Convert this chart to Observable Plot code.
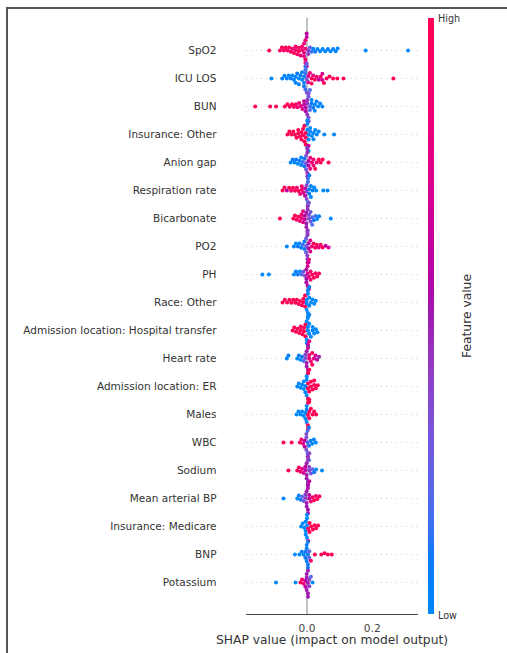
<!DOCTYPE html>
<html>
<head>
<meta charset="utf-8">
<script src="https://cdn.jsdelivr.net/npm/d3@7"></script>
<script src="https://cdn.jsdelivr.net/npm/@observablehq/plot@0.6"></script>
<style>
  html, body { margin: 0; padding: 0; background: #fff; }
  #wrap { position: relative; width: 507px; height: 653px; overflow: hidden; background: #fff; font-family: "DejaVu Sans", sans-serif; color: #333; }
  #wrap > svg { position: absolute; left: 0; top: 0; }
  .frame { position: absolute; left: 6px; top: 7px; width: 640px; height: 720px; border: 2px solid #555; box-sizing: border-box; pointer-events: none; }
  .cbar { position: absolute; left: 428px; top: 18px; width: 6px; height: 596px; }
  .cblab { position: absolute; left: 438px; font-size: 9.6px; line-height: 1; color: #333; }
  .cbtitle { position: absolute; left: 467px; top: 316px; font-size: 12.3px; color: #333; transform: translate(-50%, -50%) rotate(-90deg); white-space: nowrap; }
</style>
</head>
<body>
<div id="wrap"></div>
<script>
// ---- Data ----
const features = [
  "SpO2", "ICU LOS", "BUN", "Insurance: Other", "Anion gap", "Respiration rate",
  "Bicarbonate", "PO2", "PH", "Race: Other", "Admission location: Hospital transfer",
  "Heart rate", "Admission location: ER", "Males", "WBC", "Sodium",
  "Mean arterial BP", "Insurance: Medicare", "BNP", "Potassium"
];
const xTicks = [0, 0.2];
const xLabel = "SHAP value (impact on model output)";
const colorLabels = { high: "High", low: "Low", title: "Feature value" };

// each entry: [SHAP value, feature value (0 = low, 1 = high), number of points]
const spo2 = [[-0.116,.95,1],[-0.083,.9,1],[-0.077,1,1],[-0.071,.95,1],[-0.066,1,1],[-0.06,.9,1],[-0.055,1,1],[-0.05,.95,1],[-0.045,.85,1],[-0.04,1,1],[-0.035,.9,2],[-0.03,.95,1],[-0.025,1,2],[-0.02,.85,1],[-0.015,.9,2],[-0.009,.8,3],[-0.005,.85,4],[-0.001,.6,3],[0.004,.4,2],[0.009,.25,1],[0.014,.15,1],[0.019,.05,1],[0.025,.1,1],[0.032,0,1],[0.04,.05,1],[0.048,0,1],[0.056,0,1],[0.064,.05,1],[0.072,0,1],[0.08,0,1],[0.088,0,1],[0.094,0,1],[0.18,0,1],[0.31,0,1]];
const icuLos = [[-0.109,0,1],[-0.076,.05,1],[-0.069,0,1],[-0.062,.05,1],[-0.056,0,1],[-0.05,.1,1],[-0.045,0,1],[-0.04,.05,1],[-0.035,0,2],[-0.03,.1,1],[-0.025,0,2],[-0.02,.05,1],[-0.015,0,2],[-0.009,.1,3],[-0.005,.15,4],[-0.001,.3,3],[0.004,.7,2],[0.009,.85,1],[0.014,.95,2],[0.019,.8,1],[0.024,1,1],[0.03,.9,1],[0.036,.6,1],[0.042,.95,1],[0.047,.7,2],[0.052,1,1],[0.06,.95,1],[0.069,1,1],[0.08,.95,1],[0.093,1,1],[0.112,1,1],[0.265,1,1]];
const bun = [[-0.159,1,1],[-0.113,.95,1],[-0.095,1,1],[-0.068,.95,1],[-0.06,1,1],[-0.053,.9,1],[-0.046,1,1],[-0.04,.95,1],[-0.034,.9,1],[-0.029,.85,1],[-0.024,.9,1],[-0.019,.8,1],[-0.014,.75,1],[-0.009,.65,2],[-0.004,.55,2],[0.001,.45,3],[0.005,.3,4],[0.009,.2,3],[0.014,.05,2],[0.019,.1,1],[0.024,0,2],[0.029,.05,1],[0.034,0,1],[0.04,.05,1],[0.047,0,1]];
const insuranceOther = [[-0.06,1,1],[-0.054,1,1],[-0.048,1,1],[-0.042,1,1],[-0.037,1,1],[-0.032,1,1],[-0.027,1,2],[-0.022,1,1],[-0.017,1,2],[-0.012,1,2],[-0.008,1,2],[-0.004,1,3],[0.001,0,4],[0.005,0,3],[0.01,0,2],[0.015,0,1],[0.02,0,2],[0.025,0,1],[0.03,0,1],[0.036,0,1],[0.053,0,1],[0.083,0,1]];
const anionGap = [[-0.05,0,1],[-0.044,.05,1],[-0.038,0,1],[-0.033,.1,1],[-0.028,0,1],[-0.023,.05,1],[-0.018,0,2],[-0.013,.15,1],[-0.008,.1,2],[-0.003,.3,3],[0.001,.45,4],[0.005,.6,3],[0.01,.8,2],[0.015,.9,1],[0.02,.85,2],[0.025,1,1],[0.03,.9,1],[0.036,1,1],[0.042,.95,1],[0.048,1,1],[0.066,.95,1]];
const respirationRate = [[-0.075,1,1],[-0.069,.95,1],[-0.062,.6,1],[-0.055,1,1],[-0.049,.9,1],[-0.043,1,1],[-0.037,.95,1],[-0.031,.9,1],[-0.026,1,1],[-0.021,.85,1],[-0.016,.9,2],[-0.011,.75,1],[-0.006,.6,2],[-0.001,.35,3],[0.003,.15,4],[0.007,.05,3],[0.012,0,2],[0.017,.05,1],[0.022,0,1],[0.028,0,1],[0.05,0,1],[0.063,0,1]];
const bicarbonate = [[-0.083,1,1],[-0.042,1,1],[-0.037,.95,1],[-0.032,.9,1],[-0.027,1,1],[-0.022,.85,1],[-0.017,.9,2],[-0.012,.75,2],[-0.007,.6,2],[-0.002,.5,3],[0.002,.45,4],[0.006,.35,3],[0.011,.3,2],[0.016,.2,2],[0.021,.1,1],[0.026,.15,1],[0.031,0,1],[0.037,.05,1],[0.073,0,1]];
const po2 = [[-0.062,0,1],[-0.04,.05,1],[-0.034,0,1],[-0.028,.1,1],[-0.023,0,1],[-0.018,.05,1],[-0.013,.15,1],[-0.008,.1,2],[-0.003,.25,3],[0.001,.4,4],[0.005,.55,3],[0.01,.75,2],[0.015,.85,1],[0.02,.95,1],[0.025,.9,1],[0.03,1,1],[0.036,.8,1],[0.042,.95,1],[0.048,.95,1],[0.057,.6,1],[0.066,.7,1]];
const ph = [[-0.137,0,1],[-0.117,0,1],[-0.04,0,1],[-0.034,.05,1],[-0.028,.1,1],[-0.022,0,1],[-0.016,.2,1],[-0.011,.3,1],[-0.006,.4,1],[-0.002,.55,3],[0.002,.7,4],[0.006,.8,3],[0.011,.9,2],[0.016,.95,1],[0.021,1,1],[0.026,.95,1],[0.031,1,1],[0.037,.95,1]];
const raceOther = [[-0.075,1,1],[-0.068,1,1],[-0.061,1,1],[-0.054,1,1],[-0.048,1,1],[-0.042,1,1],[-0.036,1,1],[-0.031,1,1],[-0.026,1,1],[-0.021,1,1],[-0.016,1,1],[-0.011,1,2],[-0.006,1,2],[-0.001,0,3],[0.003,0,4],[0.007,0,3],[0.012,0,1],[0.017,0,1],[0.022,0,1],[0.027,0,1]];
const hospitalTransfer = [[-0.044,1,1],[-0.039,1,1],[-0.034,1,1],[-0.029,1,1],[-0.024,1,1],[-0.019,1,2],[-0.014,1,1],[-0.009,1,2],[-0.005,1,2],[-0.001,0,3],[0.003,0,4],[0.007,0,3],[0.012,0,1],[0.017,0,2],[0.022,0,1],[0.027,0,1],[0.032,0,1]];
const heartRate = [[-0.062,0,1],[-0.057,.05,1],[-0.03,0,1],[-0.025,.05,1],[-0.02,0,1],[-0.015,.1,1],[-0.01,.2,1],[-0.005,.35,2],[-0.001,.5,3],[0.003,.65,4],[0.007,.8,3],[0.012,.9,1],[0.016,.95,2],[0.021,.8,1],[0.026,.65,1],[0.031,.55,1],[0.037,.5,1]];
const admissionER = [[-0.03,0,1],[-0.025,0,1],[-0.02,0,1],[-0.015,0,1],[-0.01,0,2],[-0.005,0,2],[-0.001,0,3],[0.003,1,4],[0.007,1,3],[0.012,1,2],[0.017,1,1],[0.022,1,2],[0.027,1,1],[0.033,1,1]];
const males = [[-0.032,0,1],[-0.026,0,1],[-0.02,0,1],[-0.015,0,1],[-0.01,0,1],[-0.005,0,2],[-0.001,0,3],[0.003,1,4],[0.007,1,3],[0.012,1,1],[0.017,1,1],[0.022,1,1],[0.028,1,1]];
const wbc = [[-0.072,1,1],[-0.047,1,1],[-0.022,.95,1],[-0.017,.9,1],[-0.012,.8,1],[-0.007,.6,2],[-0.002,.35,3],[0.002,.2,4],[0.006,.1,3],[0.011,.05,1],[0.016,0,1],[0.021,.05,1],[0.027,0,1]];
const sodium = [[-0.057,1,1],[-0.03,1,1],[-0.025,.95,1],[-0.02,.9,1],[-0.015,.8,1],[-0.01,.7,1],[-0.005,.6,2],[-0.001,.5,3],[0.003,.45,4],[0.007,.4,3],[0.012,.3,1],[0.017,.2,1],[0.022,.1,1],[0.028,0,1],[0.046,0,1]];
const meanArterialBP = [[-0.072,0,1],[-0.03,0,1],[-0.025,.05,1],[-0.02,.1,1],[-0.015,.2,1],[-0.01,.3,1],[-0.005,.4,2],[-0.001,.5,3],[0.003,.55,4],[0.007,.6,3],[0.012,.85,1],[0.017,.95,1],[0.022,1,1],[0.027,.9,1],[0.032,1,1],[0.038,.95,1]];
const insuranceMedicare = [[-0.018,0,1],[-0.013,0,1],[-0.008,0,1],[-0.004,0,3],[0,0,4],[0.004,1,2],[0.008,1,2],[0.013,1,1],[0.018,1,1],[0.023,1,1],[0.028,1,1],[0.034,1,1]];
const bnp = [[-0.037,0,1],[-0.023,0,1],[-0.016,.05,1],[-0.01,0,1],[-0.005,.1,2],[-0.001,.05,3],[0.003,.1,4],[0.007,.2,2],[0.012,.9,1],[0.024,1,1],[0.044,.95,1],[0.054,1,1],[0.064,.95,1],[0.076,1,1]];
const potassium = [[-0.095,0,1],[-0.035,0,1],[-0.02,1,1],[-0.015,.95,1],[-0.01,.85,1],[-0.005,.6,2],[-0.001,.5,3],[0.003,.5,4],[0.007,.4,2],[0.012,.2,1],[0.017,0,1]];

const rows = [spo2, icuLos, bun, insuranceOther, anionGap, respirationRate, bicarbonate, po2, ph,
  raceOther, hospitalTransfer, heartRate, admissionER, males, wbc, sodium, meanArterialBP,
  insuranceMedicare, bnp, potassium];

// table for the library
const points = features.flatMap((f, i) =>
  rows[i].flatMap(([x, v, n]) => Array.from({length: n}, () => ({feature: f, x, v}))));

// SHAP red_blue colormap (interpolated in LCh, darker in the middle)
const colorInterp = d3.piecewise(d3.interpolateHcl, [d3.hcl(267, 70, 54), d3.hcl(323, 80, 40), d3.hcl(20, 90, 54)]);

const W = 507, H = 653;
const xDomain = [-0.1856, 0.339];
const common = {width: W, height: H, marginLeft: 246, marginRight: 90};

const wrap = document.getElementById("wrap");

// background layer: grid, zero line, axes
const base = Plot.plot({
  ...common,
  marginTop: 18, marginBottom: 39,
  style: {background: "transparent", fontFamily: "DejaVu Sans", color: "#333"},
  x: {domain: xDomain},
  y: {type: "point", domain: features, range: [46.7, 586], padding: 0},
  marks: [
    Plot.ruleY(features, {y: d => d, stroke: "#c8c8c8", strokeWidth: 0.8, strokeDasharray: "1 4"}),
    Plot.ruleX([0], {stroke: "#999", strokeWidth: 1.2}),
    Plot.frame({anchor: "bottom", stroke: "#444", strokeWidth: 1}),
    Plot.axisY({tickSize: 0, tickPadding: 30, fontSize: 10.5, label: null, fill: "#333"}),
    Plot.axisX({ticks: xTicks, tickFormat: d3.format(".1f"), tickSize: 0, tickPadding: 9.5, fontSize: 10.6, label: null, fill: "#444"}),
    Plot.text([xLabel], {text: d => d, frameAnchor: "bottom", dy: 29, fontSize: 12.3, fill: "#333"})
  ]
});
wrap.appendChild(base);

// dot layer: one beeswarm row per feature
const dots = Plot.plot({
  ...common,
  marginTop: 32.5, marginBottom: 52.8,
  style: {background: "transparent"},
  x: {domain: xDomain, axis: null},
  fy: {domain: features, padding: 0, axis: null},
  color: {type: "linear", domain: [0, 1], interpolate: colorInterp},
  facet: {data: points, y: "feature"},
  marks: [
    Plot.dot(points, Plot.dodgeY({anchor: "middle", padding: -0.5}, {x: "x", r: 2, fill: "v"}))
  ]
});
wrap.appendChild(dots);

// colour bar legend
const cbar = document.createElement("div");
cbar.className = "cbar";
const stops = d3.range(0, 1.0001, 0.05).map(t => `${colorInterp(t)} ${(t * 100).toFixed(0)}%`);
cbar.style.background = `linear-gradient(to top, ${stops.join(", ")})`;
wrap.appendChild(cbar);

const hi = document.createElement("div");
hi.className = "cblab"; hi.textContent = colorLabels.high; hi.style.top = "14px";
wrap.appendChild(hi);
const lo = document.createElement("div");
lo.className = "cblab"; lo.textContent = colorLabels.low; lo.style.top = "611px";
wrap.appendChild(lo);
const ct = document.createElement("div");
ct.className = "cbtitle"; ct.textContent = colorLabels.title;
wrap.appendChild(ct);

const frame = document.createElement("div");
frame.className = "frame";
wrap.appendChild(frame);
</script>
</body>
</html>
